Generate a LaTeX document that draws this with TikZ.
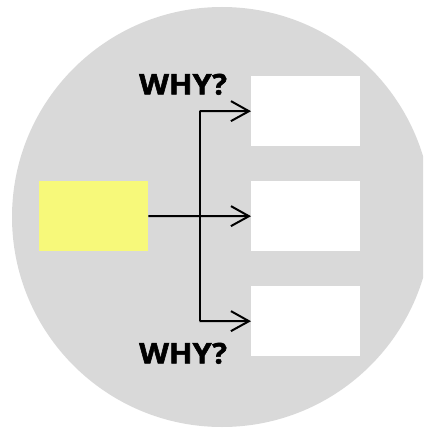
\documentclass[tikz,border=0pt]{standalone}
\usepackage{fontspec}
\setmainfont{Open Sans}
\newfontfamily\whyfont[BoldFont={* Bold},BoldFeatures={FakeBold=2,FakeStretch=1.08}]{Open Sans}
\usetikzlibrary{arrows.meta}
\definecolor{bggrey}{HTML}{D9D9D9}
\definecolor{causeyellow}{HTML}{F7F97A}
\begin{document}
\begin{tikzpicture}[x=1pt,y=-1pt,
  box/.style={draw=none,inner sep=0pt,minimum width=109pt,minimum height=70pt,anchor=north west},
  link/.style={line width=2pt,-{Straight Barb[length=18pt,width=20pt,line width=2pt]}},
  why/.style={font=\whyfont\bfseries\fontsize{28.5}{30}\selectfont,inner sep=0pt,anchor=south west}]
  \useasboundingbox (0,0) rectangle (423,428);
  \begin{scope}
    \clip (0,0) rectangle (423,428);
    \fill[bggrey] (222,217) circle[radius=210];
  \end{scope}
  % problem box and its three causes
  \node[box,fill=causeyellow] (problem) at (39,181) {};
  \node[box,fill=white] (c1) at (251,76) {};
  \node[box,fill=white] (c2) at (251,181) {};
  \node[box,fill=white] (c3) at (251,286) {};
  % branching connector
  \coordinate (split) at (199.5,216);
  \coordinate (top) at (199.5,111);
  \coordinate (bot) at (199.5,321);
  \draw[line width=2pt] (problem.east) -- (split);
  \draw[line width=2pt] (top) -- (bot);
  \draw[link] (top) -- (c1.west);
  \draw[link] (split) -- (c2.west);
  \draw[link] (bot) -- (c3.west);
  % labels
  \node[why] (w1) at (139,95) {WHY?};
  \node[why] (w2) at (139,364) {WHY?};
\end{tikzpicture}
\end{document}
